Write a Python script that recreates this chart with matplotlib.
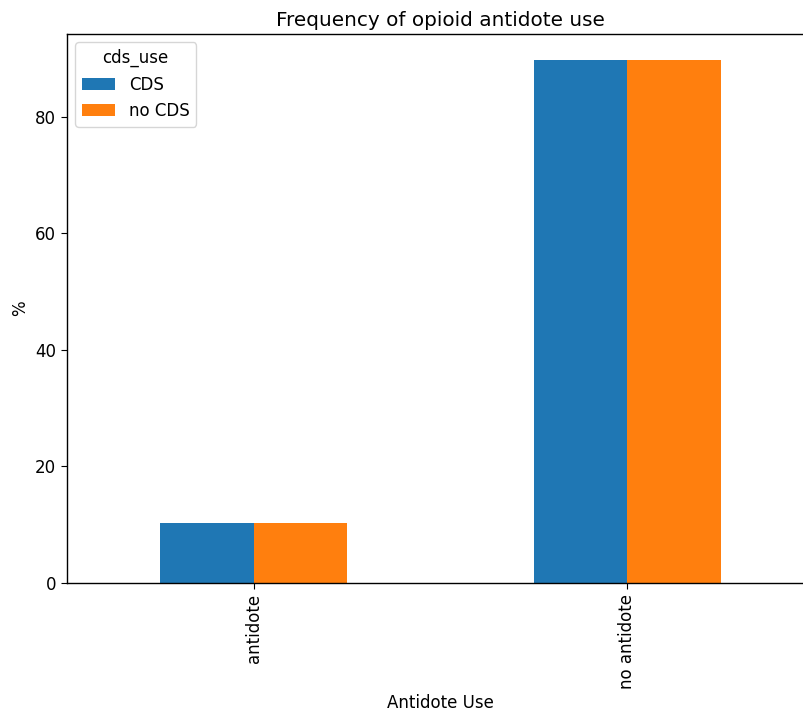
import numpy as np
import matplotlib
matplotlib.use("Agg")
import matplotlib.pyplot as plt

categories = ["antidote", "no antidote"]
cds = [10.3, 89.8]
no_cds = [10.3, 89.8]
series_names = ["CDS", "no CDS"]

plt.rcParams["font.size"] = 12
plt.rcParams["axes.linewidth"] = 1.0
plt.rcParams["xtick.major.size"] = 4.2
plt.rcParams["ytick.major.size"] = 4.2

fig = plt.figure(figsize=(8.04, 7.15), dpi=100)
ax = fig.add_axes([0.0833, 0.1846, 0.929, 0.7678])

x = np.arange(len(categories))
w = 0.25
ax.bar(x - w / 2, cds, w, color="#1f77b4", label=series_names[0])
ax.bar(x + w / 2, no_cds, w, color="#ff7f0e", label=series_names[1])

ax.set_xlim(-0.5, 1.5)
ax.set_ylim(0, 94.2)
ax.set_xticks(x)
ax.set_xticklabels(categories, rotation=90)
ax.set_yticks([0, 20, 40, 60, 80])
ax.set_xlabel("Antidote Use")
ax.set_ylabel("%")
ax.set_title("Frequency of opioid antidote use", fontsize=14.4)
ax.legend(title="cds_use", loc="upper left", title_fontsize=12)

fig.savefig("out.png", dpi=100)
